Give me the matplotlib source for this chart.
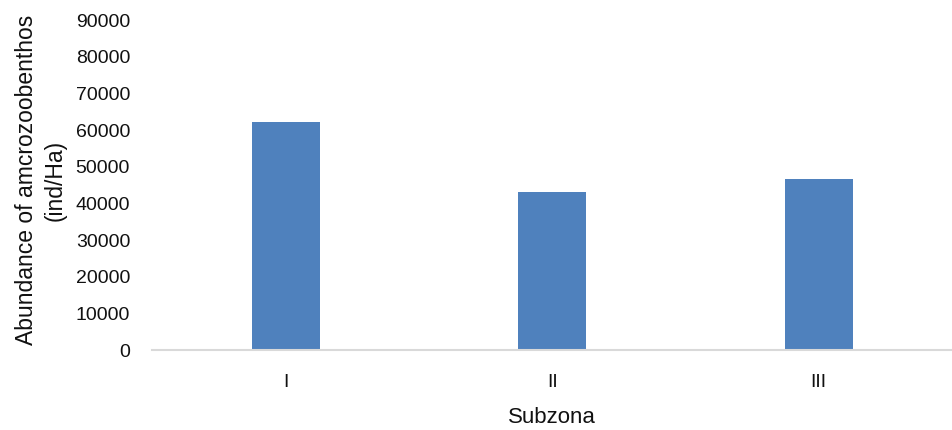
import matplotlib
matplotlib.use("Agg")
import matplotlib.pyplot as plt

plt.rcParams['font.family'] = ['Liberation Sans', 'DejaVu Sans']

# data
categories = ["I", "II", "III"]
abundance = [62100, 43200, 46650]
y_ticks = [0, 10000, 20000, 30000, 40000, 50000, 60000, 70000, 80000, 90000]

fig = plt.figure(figsize=(9.52, 4.30), dpi=100)
ax = fig.add_axes([0.16, 0.186, 0.84, 0.767])

x = range(len(categories))
ax.bar(x, abundance, width=0.255, color='#4F81BD', zorder=2)

ax.set_xlim(-0.5, len(categories) - 0.5)
ax.set_ylim(0, 90000)
ax.set_yticks(y_ticks)
ax.set_yticklabels([str(t) for t in y_ticks])
ax.set_xticks(list(x))
ax.set_xticklabels(categories)

# only the bottom axis line, light gray like Excel
for side in ['top', 'right', 'left']:
    ax.spines[side].set_visible(False)
ax.spines['bottom'].set_color('#D9D9D9')
ax.spines['bottom'].set_linewidth(1.5)
ax.tick_params(axis='both', length=0, labelsize=14, colors='#111111')
ax.tick_params(axis='y', pad=16)
ax.tick_params(axis='x', pad=17)

ax.set_xlabel("Subzona", fontsize=16, color='#111111', labelpad=12)
ax.set_ylabel("Abundance of amcrozoobenthos\n(ind/Ha)", fontsize=16.5,
              color='#111111', linespacing=1.3)
# label anchor is the right edge of the rotated text block
ax.yaxis.set_label_coords(-0.107, 0.515)

fig.savefig("out.png", dpi=100)
